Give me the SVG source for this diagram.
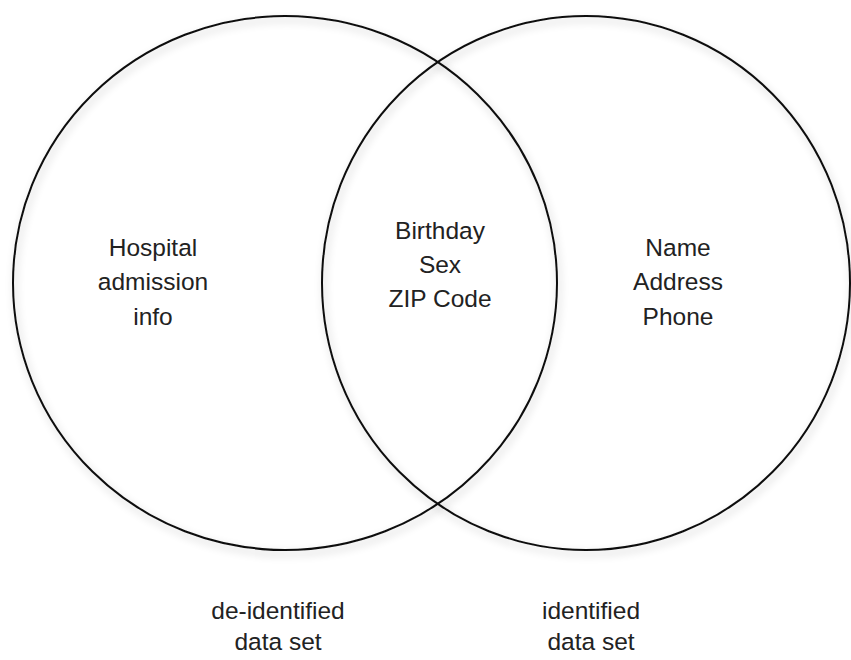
<svg xmlns="http://www.w3.org/2000/svg" width="851" height="660" viewBox="0 0 851 660">
<defs>
<style>
.c{fill:none;stroke:#111;stroke-width:2}
.t{font-family:"Liberation Sans",Arial,sans-serif;font-size:24.5px;fill:#222;text-anchor:middle}
</style>
<filter id="sh" x="-10%" y="-10%" width="120%" height="120%">
<feGaussianBlur in="SourceAlpha" stdDeviation="4"/>
<feOffset dx="2" dy="4" result="b"/>
<feComponentTransfer><feFuncA type="linear" slope="0.25"/></feComponentTransfer>
<feMerge><feMergeNode/><feMergeNode in="SourceGraphic"/></feMerge>
</filter>
</defs>
<rect width="851" height="660" fill="#fff"/>
<g id="connectors"></g>
<g id="deidentified">
<ellipse class="c" cx="285" cy="283" rx="272" ry="267" filter="url(#sh)"/>
<text class="t" x="153" y="256">Hospital</text>
<text class="t" x="153" y="290">admission</text>
<text class="t" x="153" y="325">info</text>
<text class="t" x="278" y="619">de-identified</text>
<text class="t" x="278" y="650">data set</text>
</g>
<g id="identified">
<ellipse class="c" cx="586" cy="283" rx="264" ry="267" filter="url(#sh)"/>
<text class="t" x="678" y="256">Name</text>
<text class="t" x="678" y="290">Address</text>
<text class="t" x="678" y="325">Phone</text>
<text class="t" x="591" y="619">identified</text>
<text class="t" x="591" y="650">data set</text>
</g>
<g id="overlap">
<text class="t" x="440" y="239">Birthday</text>
<text class="t" x="440" y="273">Sex</text>
<text class="t" x="440" y="307">ZIP Code</text>
</g>
</svg>
